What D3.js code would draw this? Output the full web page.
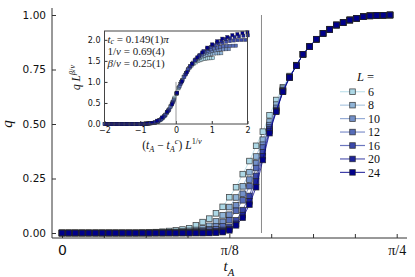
<!DOCTYPE html>
<html>
<head>
<meta charset="utf-8">
<script src="https://cdn.jsdelivr.net/npm/d3@7"></script>
<style>
  body { margin: 0; background: #fff; }
  svg { display: block; }
</style>
</head>
<body>
<div id="chart"></div>
<script>
// t_A in units of pi
const tA = [0.000, 0.005, 0.010, 0.015, 0.020, 0.025, 0.030, 0.035, 0.040, 0.045,
            0.050, 0.055, 0.060, 0.065, 0.070, 0.075, 0.080, 0.085, 0.090, 0.095,
            0.100, 0.105, 0.110, 0.115, 0.120, 0.125, 0.130, 0.135, 0.140, 0.145,
            0.150, 0.155, 0.160, 0.165, 0.170, 0.175, 0.180, 0.185, 0.190, 0.195,
            0.200, 0.205, 0.210, 0.215, 0.220, 0.225, 0.230, 0.235, 0.240, 0.245];

const sizes = [6, 8, 10, 12, 16, 20, 24];

const q6  = [0, 0, 0, 0, 0, 0, 0, 0, 0, 0, 0, 0, 0.001, 0.002, 0.004, 0.006, 0.009, 0.012, 0.016, 0.022,
             0.035, 0.05, 0.066, 0.09, 0.12, 0.164, 0.21, 0.27, 0.33, 0.40,
             0.465, 0.54, 0.61, 0.668, 0.72, 0.77, 0.82, 0.856, 0.889, 0.916,
             0.935, 0.954, 0.966, 0.977, 0.985, 0.992, 0.996, 0.998, 0.999, 1.0];
const q8  = [0, 0, 0, 0, 0, 0, 0, 0, 0, 0, 0, 0, 0, 0, 0.001, 0.002, 0.003, 0.005, 0.007, 0.010,
             0.014, 0.021, 0.033, 0.053, 0.081, 0.119, 0.163, 0.214, 0.279, 0.351,
             0.428, 0.511, 0.589, 0.662, 0.717, 0.768, 0.82, 0.856, 0.889, 0.916,
             0.935, 0.954, 0.966, 0.977, 0.985, 0.992, 0.996, 0.998, 0.999, 1.0];
const q10 = [0, 0, 0, 0, 0, 0, 0, 0, 0, 0, 0, 0, 0, 0, 0, 0, 0.001, 0.001, 0.003, 0.005,
             0.008, 0.011, 0.017, 0.030, 0.051, 0.084, 0.127, 0.180, 0.245, 0.321,
             0.405, 0.495, 0.574, 0.655, 0.715, 0.767, 0.82, 0.855, 0.889, 0.916,
             0.934, 0.954, 0.965, 0.977, 0.985, 0.992, 0.996, 0.998, 0.999, 1.0];
const q12 = [0, 0, 0, 0, 0, 0, 0, 0, 0, 0, 0, 0, 0, 0, 0, 0, 0, 0, 0.001, 0.002,
             0.004, 0.007, 0.011, 0.017, 0.031, 0.059, 0.102, 0.150, 0.215, 0.298,
             0.392, 0.484, 0.564, 0.652, 0.714, 0.767, 0.82, 0.855, 0.889, 0.916,
             0.934, 0.954, 0.965, 0.977, 0.985, 0.992, 0.996, 0.998, 0.999, 1.0];
const q16 = [0, 0, 0, 0, 0, 0, 0, 0, 0, 0, 0, 0, 0, 0, 0, 0, 0, 0, 0, 0,
             0.001, 0.002, 0.004, 0.008, 0.014, 0.028, 0.058, 0.105, 0.170, 0.262,
             0.37, 0.475, 0.56, 0.65, 0.714, 0.767, 0.82, 0.855, 0.889, 0.916,
             0.934, 0.954, 0.965, 0.977, 0.985, 0.992, 0.996, 0.998, 0.999, 1.0];
const q20 = [0, 0, 0, 0, 0, 0, 0, 0, 0, 0, 0, 0, 0, 0, 0, 0, 0, 0, 0, 0,
             0, 0, 0.001, 0.004, 0.008, 0.018, 0.042, 0.082, 0.145, 0.236,
             0.352, 0.468, 0.558, 0.648, 0.714, 0.767, 0.82, 0.855, 0.889, 0.916,
             0.934, 0.954, 0.965, 0.977, 0.985, 0.992, 0.996, 0.998, 0.999, 1.0];
const q24 = [0, 0, 0, 0, 0, 0, 0, 0, 0, 0, 0, 0, 0, 0, 0, 0, 0, 0, 0, 0,
             0, 0, 0, 0.001, 0.004, 0.012, 0.035, 0.07, 0.13, 0.21,
             0.335, 0.458, 0.556, 0.648, 0.714, 0.767, 0.82, 0.855, 0.889, 0.916,
             0.934, 0.954, 0.965, 0.977, 0.985, 0.992, 0.996, 0.998, 0.999, 1.0];
const qBySize = [q6, q8, q10, q12, q16, q20, q24];

// fit results shown in the inset
const tcOverPi = 0.149;
const invNu = 0.69;
const betaNu = 0.25;

const colors = ['#add8e6', '#90b4d7', '#7390c8', '#566cb9', '#3a48a9', '#1d249a', '#00008b'];

const W = 415, H = 277;
const serif = '"Liberation Serif", "DejaVu Serif", serif';
const sans = '"DejaVu Sans", sans-serif';

const svg = d3.select('#chart').append('svg')
    .attr('width', W)
    .attr('height', H);

const x = d3.scaleLinear().domain([0, Math.PI / 4]).range([62, 396.7]);
const y = d3.scaleLinear().domain([0, 1]).range([233, 15]);

// rich text helper: parts = [{t, i, sub, sup}]
function richText(g, parts, size, subShift = 0.3) {
    let shift = 0;
    parts.forEach(p => {
        let target = 0;
        if (p.sub) target = size * subShift;
        if (p.sup) target = -size * 0.4;
        g.append('tspan')
            .attr('dy', target - shift)
            .attr('font-size', (p.sub || p.sup) ? size * 0.72 : size)
            .attr('font-style', p.i ? 'italic' : 'normal')
            .text(p.t);
        shift = target;
    });
}

// ---- main axes ----
const axisColor = '#333';
const yAxis = svg.append('g')
    .attr('transform', 'translate(52,0)')
    .call(d3.axisLeft(y).tickValues([0, 0.25, 0.5, 0.75, 1])
        .tickFormat(d3.format('.2f')).tickSize(-4).tickSizeOuter(0).tickPadding(6));
yAxis.select('.domain').remove();
yAxis.selectAll('line').attr('stroke', axisColor);
yAxis.selectAll('text').attr('font-family', sans).attr('font-size', 10.5).attr('fill', '#111');

const xTicks = d3.range(9).map(i => i * Math.PI / 32);
const xAxis = svg.append('g')
    .attr('transform', 'translate(0,238)')
    .call(d3.axisBottom(x).tickValues(xTicks)
        .tickFormat((d, i) => i === 0 ? '0' : i === 4 ? 'π/8' : i === 8 ? 'π/4' : '')
        .tickSize(-4).tickSizeOuter(0).tickPadding(7));
xAxis.select('.domain').remove();
xAxis.selectAll('line').attr('stroke', axisColor);
xAxis.selectAll('text')
    .attr('font-family', (d, i) => i === 0 ? sans : serif)
    .attr('font-size', 14).attr('fill', '#111');

svg.append('line').attr('x1', 52).attr('x2', 52).attr('y1', 8).attr('y2', 238)
    .attr('stroke', axisColor);
svg.append('line').attr('x1', 52).attr('x2', 407).attr('y1', 238).attr('y2', 238)
    .attr('stroke', axisColor);

// axis labels
richText(svg.append('text').attr('x', 229).attr('y', 271).attr('text-anchor', 'middle')
    .attr('font-family', serif).attr('fill', '#111'),
    [{ t: 't', i: true }, { t: 'A', i: true, sub: true }], 15);
svg.append('text').attr('transform', 'translate(12,124) rotate(-90)')
    .attr('text-anchor', 'middle').attr('font-family', serif).attr('font-style', 'italic')
    .attr('font-size', 15).attr('fill', '#111').text('q');

// critical point marker
const tcRad = tcOverPi * Math.PI;
svg.append('line')
    .attr('x1', x(tcRad)).attr('x2', x(tcRad))
    .attr('y1', y(0)).attr('y2', y(1))
    .attr('stroke', '#8a8a8a').attr('stroke-width', 1);

// ---- main data ----
const line = d3.line().x(d => x(d[0])).y(d => y(d[1]));
const ms = 5.6;
sizes.forEach((L, si) => {
    const pts = tA.map((t, k) => [t * Math.PI, qBySize[si][k]]);
    const g = svg.append('g');
    g.append('path').datum(pts)
        .attr('fill', 'none').attr('stroke', colors[si])
        .attr('stroke-opacity', 0.75).attr('stroke-width', 1)
        .attr('d', line);
    g.selectAll('rect').data(pts).join('rect')
        .attr('x', d => x(d[0]) - ms / 2)
        .attr('y', d => y(d[1]) - ms / 2)
        .attr('width', ms).attr('height', ms)
        .attr('fill', colors[si])
        .attr('stroke', '#222').attr('stroke-opacity', 0.8).attr('stroke-width', 0.8);
});

// ---- legend ----
const lg = svg.append('g');
richText(lg.append('text').attr('x', 357).attr('y', 81).attr('font-family', serif).attr('fill', '#111'),
    [{ t: 'L', i: true }, { t: ' =' }], 12.5);
sizes.forEach((L, si) => {
    const ly = 91.7 + si * 13.45;
    lg.append('line').attr('x1', 340).attr('x2', 365).attr('y1', ly).attr('y2', ly)
        .attr('stroke', colors[si]).attr('stroke-opacity', 0.75).attr('stroke-width', 1.2);
    lg.append('rect').attr('x', 352.5 - ms / 2).attr('y', ly - ms / 2)
        .attr('width', ms).attr('height', ms).attr('fill', colors[si])
        .attr('stroke', '#222').attr('stroke-opacity', 0.8).attr('stroke-width', 0.8);
    lg.append('text').attr('x', 368).attr('y', ly + 4.3)
        .attr('font-family', serif).attr('font-size', 12).attr('fill', '#111').text(L);
});

// ---- inset: scaling collapse ----
const ix = d3.scaleLinear().domain([-2, 2]).range([104.5, 247.5]);
const iy = d3.scaleLinear().domain([0, 2.21]).range([124, 31]);

svg.append('rect').attr('x', 104.5).attr('y', 31).attr('width', 143).attr('height', 93)
    .attr('fill', '#fff');

const ixAxis = svg.append('g').attr('transform', 'translate(0,124)')
    .call(d3.axisBottom(ix).ticks(5).tickSize(-3).tickSizeOuter(0).tickPadding(3));
ixAxis.select('.domain').remove();
ixAxis.selectAll('line').attr('stroke', axisColor);
ixAxis.selectAll('text').attr('font-family', sans).attr('font-size', 8).attr('fill', '#111');

const iyAxis = svg.append('g').attr('transform', 'translate(104.5,0)')
    .call(d3.axisLeft(iy).tickValues([0, 0.5, 1, 1.5, 2]).tickFormat(d3.format('.1f'))
        .tickSize(-3).tickSizeOuter(0).tickPadding(4));
iyAxis.select('.domain').remove();
iyAxis.selectAll('line').attr('stroke', axisColor);
iyAxis.selectAll('text').attr('font-family', sans).attr('font-size', 8).attr('fill', '#111');

svg.append('line')
    .attr('x1', ix(0)).attr('x2', ix(0)).attr('y1', iy(0)).attr('y2', iy(1))
    .attr('stroke', '#9a9a9a').attr('stroke-width', 1);

const ims = 3.2;
sizes.forEach((L, si) => {
    const pts = tA.map((t, k) => [
        (t - tcOverPi) * Math.PI * Math.pow(L, invNu),
        qBySize[si][k] * Math.pow(L, betaNu)
    ]).filter(d => d[0] >= -2.03 && d[0] <= 2.03);
    svg.append('g').selectAll('rect').data(pts).join('rect')
        .attr('x', d => ix(d[0]) - ims / 2)
        .attr('y', d => iy(d[1]) - ims / 2)
        .attr('width', ims).attr('height', ims)
        .attr('fill', colors[si])
        .attr('stroke', '#222').attr('stroke-opacity', 0.7).attr('stroke-width', 0.5);
});

svg.append('rect').attr('x', 104.5).attr('y', 31).attr('width', 143).attr('height', 93)
    .attr('fill', 'none').attr('stroke', '#444').attr('stroke-width', 1);

// fit annotation
const ann = [
    [{ t: 't', i: true }, { t: 'c', i: true, sub: true }, { t: ' = 0.149(1)' }, { t: 'π', i: true }],
    [{ t: '1/' }, { t: 'ν', i: true }, { t: ' = 0.69(4)' }],
    [{ t: 'β', i: true }, { t: '/' }, { t: 'ν', i: true }, { t: ' = 0.25(1)' }]
];
ann.forEach((parts, i) => {
    richText(svg.append('text').attr('x', 107.5).attr('y', 43 + i * 11.8)
        .attr('font-family', serif).attr('fill', '#222'), parts, 11, 0.1);
});

// inset axis labels
richText(svg.append('text').attr('x', 172).attr('y', 149).attr('text-anchor', 'middle')
    .attr('font-family', serif).attr('fill', '#111'),
    [{ t: '(' }, { t: 't', i: true }, { t: 'A', i: true, sub: true }, { t: ' − ' },
     { t: 't', i: true }, { t: 'A', i: true, sub: true }, { t: 'c', i: true, sup: true },
     { t: ') ' }, { t: 'L', i: true }, { t: '1/', sup: true }, { t: 'ν', i: true, sup: true }], 11.5);
richText(svg.append('text').attr('transform', 'translate(80,77.5) rotate(-90)')
    .attr('text-anchor', 'middle').attr('font-family', serif).attr('fill', '#111'),
    [{ t: 'q', i: true }, { t: ' ' }, { t: 'L', i: true }, { t: 'β', i: true, sup: true },
     { t: '/', sup: true }, { t: 'ν', i: true, sup: true }], 11.5);
</script>
</body>
</html>
